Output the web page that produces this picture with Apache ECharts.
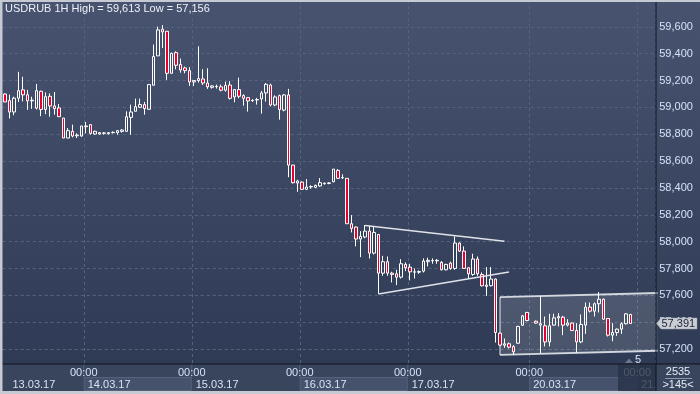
<!DOCTYPE html>
<html><head><meta charset="utf-8">
<script src="https://cdn.jsdelivr.net/npm/echarts@6.0.0/dist/echarts.min.js"></script>
<style>html,body{margin:0;padding:0;background:#c5c9d1;}#c{width:700px;height:394px;}</style>
</head><body><div id="c"></div><script>
const FONT = '"Liberation Sans Narrow","Arial Narrow","Liberation Sans",Arial,sans-serif';
const titleText = 'USDRUB 1H High = 59,613 Low = 57,156';

// trading sessions: [day, first hour, last hour]
const sessions = [['13.03',6,23],['14.03',0,23],['15.03',0,23],['16.03',0,23],['17.03',0,23],['19.03',21,23],['20.03',0,23],['21.03',0,3]];
const dateLabels = ['13.03.17','14.03.17','15.03.17','16.03.17','17.03.17','20.03.17','21.03.17'];
const yTicks = {min:57000, max:59800, step:200};

const opens = [59100,59051,58966,59069,59131,59094,59049,58995,59120,58985,59083,59011,58996,58921,58772,58822,58789,58787,58857,58872,58802,58812,58807,58805,58812,58812,58822,58822,58926,58971,59001,59021,58986,59165,59384,59582,59567,59254,59408,59319,59294,59274,59190,59200,59212,59182,59150,59155,59153,59128,59167,59078,59133,59088,59073,59051,59056,59063,59108,59167,59018,59088,58980,59093,58571,58437,58444,58390,58408,58405,58415,58432,58434,58447,58531,58477,58472,58134,58109,58020,58035,58079,57915,58054,57766,57851,57766,57761,57736,57831,57811,57776,57773,57781,57851,57858,57858,57846,57791,57841,57801,57990,57930,57806,57756,57871,57756,57667,57672,57722,57319,57230,57240,57219,57244,57378,57473,null,57408,57379,57374,57254,57379,57443,57438,57379,57394,57339,57254,57379,57513,57483,57538,57572,57428,57304,57324,57349,57389,57458];
const highs = [59105,59095,59080,59265,59228,59130,59080,59175,59125,59112,59105,59115,59026,58921,58847,58872,58807,58862,58892,58872,58827,58817,58817,58817,58822,58832,58837,58971,59021,59066,59066,59041,59175,59468,59602,59613,59567,59408,59418,59364,59304,59300,59200,59455,59285,59292,59165,59170,59170,59192,59195,59135,59222,59098,59078,59061,59071,59123,59182,59177,59090,59095,59100,59138,58571,58462,58449,58467,58420,58425,58474,58440,58442,58541,58541,58502,58472,58198,58114,58079,58124,58119,58114,58054,57895,57890,57776,57791,57870,57846,57836,57801,57786,57876,57881,57876,57871,57856,57836,57851,58039,57995,57965,57811,57910,57890,57771,57811,57811,57726,57324,57279,57249,57229,57374,57453,57478,null,57413,57597,57443,57463,57463,57468,57448,57423,57399,57394,57458,57547,57547,57547,57625,57577,57428,57394,57354,57399,57468,57463];
const lows = [59040,58918,58942,59041,59045,58982,58990,58985,58935,58950,58931,58946,58931,58772,58772,58777,58772,58782,58807,58797,58797,58797,58797,58797,58807,58797,58812,58817,58797,58971,58996,58946,58986,59165,59384,59443,59205,59254,59284,59259,59254,59160,59160,59185,59167,59138,59140,59140,59120,59118,59058,59038,59068,59013,58969,59041,59021,58954,59043,59008,59010,58909,58971,58480,58434,58372,58385,58385,58395,58400,58410,58425,58428,58442,58467,58467,58134,58069,57965,57885,58025,57875,57905,57612,57746,57746,57697,57677,57726,57781,57712,57726,57761,57771,57816,57836,57836,57786,57786,57791,57791,57925,57801,57726,57746,57746,57667,57597,57667,57249,57225,57210,57205,57156,57239,57374,57408,null,57389,57170,57220,57220,57374,57369,57304,57369,57334,57175,57244,57314,57473,57443,57473,57418,57294,57259,57299,57314,57384,57389];
const closes = [59041,58966,59069,59124,59094,59049,59054,59125,58985,59080,59011,58991,58931,58772,58827,58787,58794,58862,58862,58807,58822,58802,58810,58812,58814,58827,58832,58931,58966,59006,59021,58991,59170,59379,59577,59562,59254,59403,59314,59279,59274,59190,59200,59215,59182,59153,59160,59157,59128,59163,59068,59133,59083,59068,59048,59053,59058,59108,59172,59018,59078,58984,59093,58571,58439,58452,58390,58407,58411,58420,58440,58436,58438,58541,58472,58478,58134,58099,58020,58040,58079,57915,58069,57766,57851,57766,57756,57736,57836,57806,57776,57773,57778,57856,57861,57860,57861,57791,57831,57801,57990,57930,57801,57761,57871,57761,57672,57677,57722,57324,57230,57240,57215,57180,57369,57448,57413,null,57394,57389,57254,57374,57433,57433,57379,57394,57339,57254,57384,57513,57483,57538,57572,57423,57304,57324,57349,57389,57463,57391];

// drawn annotations: [x1, y1, x2, y2] in (bar index, price)
const trendLines = [[79.6,58121,110.9,58003],[82.7,57610,111.8,57774]];
// channel: [xLeft, topLeft, xRight, topRight, bottomRight, bottomLeft]
const channel = [[109.6,57588,144.5,57618,57188,57157]];
const footerCount = '2535', footerBars = '>145<', markerText = '5';

const categories = [];
sessions.forEach(([d,h0,h1]) => { for (let h=h0; h<=h1; h++) categories.push(d+' '+String(h).padStart(2,'0')+':00'); });
const dayStartIdx = categories.map((c,i)=>c.endsWith(' 00:00')?i:-1).filter(i=>i>=0);
const ohlc = opens.map((o,i)=> o==null ? '-' : [o, closes[i], lows[i], highs[i]]);
const fmt = v => String(Math.round(v)).replace(/\B(?=(\d{3})+(?!\d))/g, ',');

const chart = echarts.init(document.getElementById('c'), null, {renderer:'canvas'});
const grid = {left:2.75, top:0, width:652.5, height:376};
const dash = {color:'#56637e', type:[3,3], width:1};
chart.setOption({
  animation:false,
  backgroundColor:{type:'linear',x:0,y:0,x2:0,y2:1,colorStops:[{offset:0,color:'#48546f'},{offset:1,color:'#2d3953'}]},
  grid: grid,
  xAxis:{type:'category', data:categories, boundaryGap:true,
    axisLine:{show:false}, axisTick:{show:false}, axisLabel:{show:false},
    splitLine:{show:true, interval:(idx)=>dayStartIdx.indexOf(idx)>=0, lineStyle:dash}},
  yAxis:{type:'value', position:'right', min:yTicks.min, max:yTicks.max, interval:yTicks.step, scale:true,
    axisLine:{show:false}, axisTick:{show:false},
    axisLabel:{margin:4, color:'#d4e2f7', fontSize:11, fontFamily:FONT,
      formatter:v => (v<=yTicks.min || v>=yTicks.max) ? '' : fmt(v)},
    splitLine:{lineStyle:dash}},
  series:[
    {type:'custom', z:1, silent:true, data:channel, encode:{x:[0,2], y:[1,3,4,5]},
      renderItem:(params, api)=>{
        const x1=api.value(0), t1=api.value(1), x2=api.value(2), t2=api.value(3), b2=api.value(4), b1=api.value(5);
        const a=api.coord([x1,t1]), b=api.coord([x2,t2]), c=api.coord([x2,b2]), d=api.coord([x1,b1]);
        return {type:'group', children:[
          {type:'polygon', shape:{points:[a,b,c,d]}, style:{fill:'rgba(255,255,255,0.13)'}},
          {type:'polyline', shape:{points:[a,b]}, style:{stroke:'#d3d7de', lineWidth:1.8, fill:null}},
          {type:'polyline', shape:{points:[d,c]}, style:{stroke:'#d3d7de', lineWidth:1.8, fill:null}},
          {type:'line', shape:{x1:a[0],y1:a[1],x2:d[0],y2:d[1]}, style:{stroke:'#e8ebf0', lineWidth:1}}
        ]};
      }},
    {type:'candlestick', z:2, data:ohlc, barWidth:3.2,
      itemStyle:{color:'rgba(0,0,0,0)', color0:'#e8002f', borderColor:'#ffffff', borderColor0:'#ffffff', borderWidth:1}},
    {type:'custom', z:3, silent:true, data:trendLines, encode:{x:[0,2], y:[1,3]},
      renderItem:(params, api)=>{
        const p1=api.coord([api.value(0),api.value(1)]), p2=api.coord([api.value(2),api.value(3)]);
        return {type:'line', shape:{x1:p1[0],y1:p1[1],x2:p2[0],y2:p2[1]}, style:{stroke:'#dfe2e8', lineWidth:1.5}};
      }}
  ]
});

// overlays positioned through the chart's own scales
const px = i => chart.convertToPixel({xAxisIndex:0}, categories[i]);
const bw = px(1) - px(0);
const edge = i => px(i) - bw/2;
const plotL = grid.left, plotR = grid.left + grid.width;
const yPix = v => chart.convertToPixel({yAxisIndex:0}, v);
const font = '11px ' + FONT;
const g = [];
g.push({type:'rect', z:100, shape:{x:0,y:364,width:700,height:28}, style:{fill:'#39445d'}});
const starts = [plotL].concat(dayStartIdx.map(edge));
const ends = dayStartIdx.map(edge).concat([plotR]);
starts.forEach((s,k)=>{
  if (k%2===1) g.push({type:'rect', z:101, shape:{x:s+0.5,y:377.5,width:ends[k]-s-1,height:13}, style:{fill:'#46526b', stroke:'#56627b', lineWidth:1}});
  const tx = k===0 ? 12.5 : s+4;
  g.push({type:'text', z:103, style:{text:dateLabels[k], x:tx, y:384.5, font:font, fill:'#d6e2f4', align:'left', verticalAlign:'middle'}});
});
dayStartIdx.forEach(i=>{
  const x = edge(i);
  g.push({type:'line', z:102, shape:{x1:x,y1:364,x2:x,y2:377}, style:{stroke:'#56637e', lineWidth:1}});
  g.push({type:'text', z:103, style:{text:'00:00', x:x, y:372.5, font:font, fill:'#d6e2f4', align:'center', verticalAlign:'middle'}});
});
g.push({type:'rect', z:104, shape:{x:618,y:364.5,width:38,height:27}, style:{fill:'rgba(40,50,72,0.8)'}});
g.push({type:'rect', z:105, shape:{x:656,y:364,width:44,height:28}, style:{fill:'#39445d'}});
g.push({type:'text', z:106, style:{text:footerCount, x:678, y:372, font:font, fill:'#e6edf8', align:'center', verticalAlign:'middle'}});
g.push({type:'line', z:106, shape:{x1:665,y1:378.5,x2:692,y2:378.5}, style:{stroke:'#8c97aa', lineWidth:1}});
g.push({type:'text', z:106, style:{text:footerBars, x:678, y:384.5, font:font, fill:'#e6edf8', align:'center', verticalAlign:'middle'}});
g.push({type:'rect', z:107, shape:{x:0,y:363.5,width:700,height:1}, style:{fill:'#10141b'}});
g.push({type:'rect', z:107, shape:{x:655.5,y:0,width:1,height:392}, style:{fill:'#10141b'}});
g.push({type:'polygon', z:107, shape:{points:[[625,363],[629,358.5],[633,363]]}, style:{fill:'#6b7690'}});
g.push({type:'text', z:107, style:{text:markerText, x:635, y:359.5, font:font, fill:'#d8e2f0', align:'left', verticalAlign:'middle'}});
const last = closes[closes.length-1], ly = yPix(last);
g.push({type:'polygon', z:108, shape:{points:[[656.5,ly],[661,ly-5.5],[697,ly-5.5],[697,ly+5.5],[661,ly+5.5]]}, style:{fill:'#c9cdd4', stroke:'#9aa2b0', lineWidth:0.5}});
g.push({type:'text', z:109, style:{text:fmt(last), x:661.5, y:ly+0.5, font:font, fill:'#1d2436', align:'left', verticalAlign:'middle'}});
g.push({type:'text', z:109, style:{text:titleText, x:5, y:8.5, font:font, fill:'#eef2f8', align:'left', verticalAlign:'middle'}});
g.push({type:'rect', z:110, shape:{x:0,y:0,width:700,height:2}, style:{fill:'#c6cad2'}});
g.push({type:'rect', z:110, shape:{x:0,y:0,width:2.5,height:394}, style:{fill:'#c6cad2'}});
g.push({type:'rect', z:110, shape:{x:0,y:391,width:700,height:3}, style:{fill:'#c6cad2'}});
chart.setOption({graphic:{elements:g}});
</script></body></html>
